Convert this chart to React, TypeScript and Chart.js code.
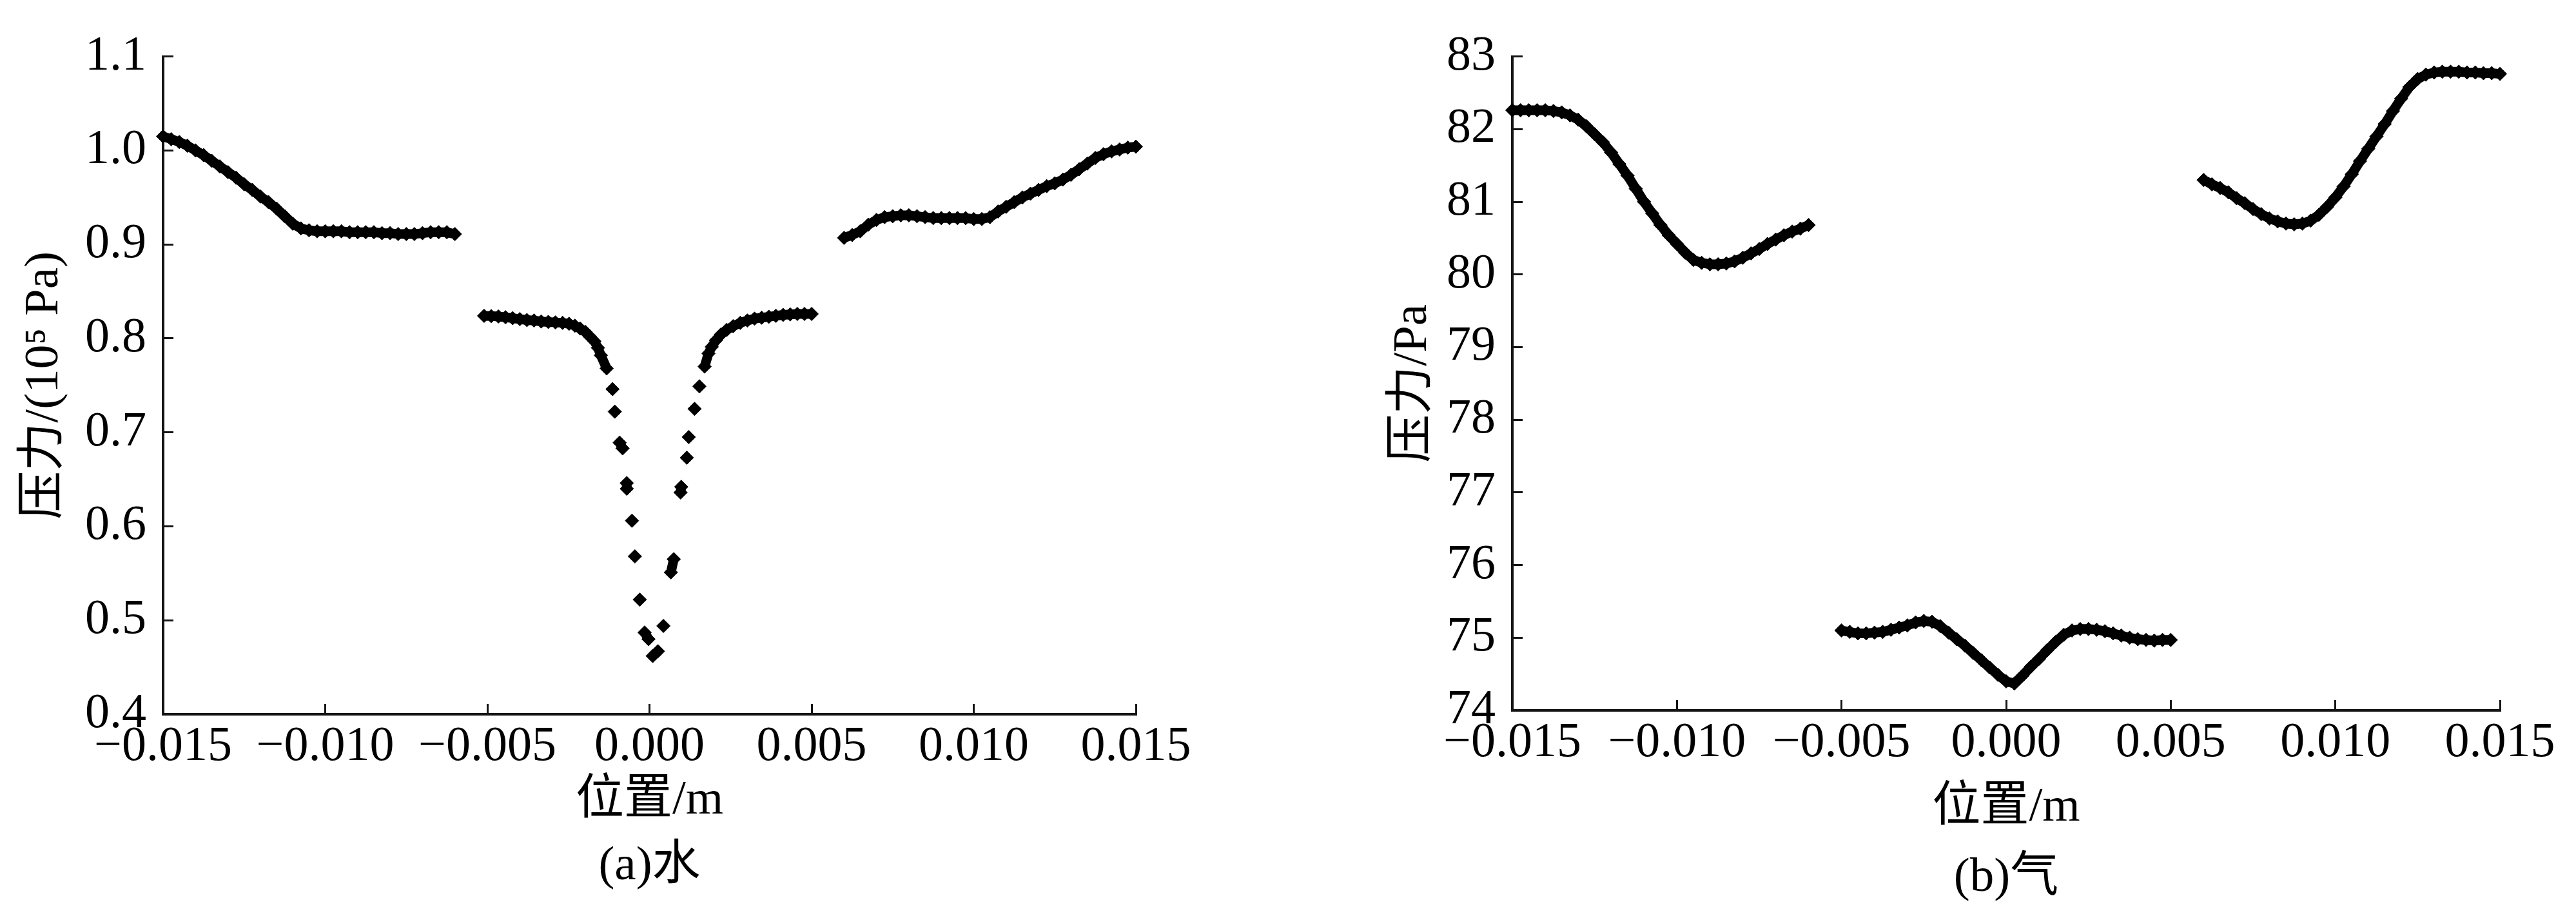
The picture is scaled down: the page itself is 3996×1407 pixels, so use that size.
import React, { useEffect, useRef } from 'react';
import { Chart, registerables } from 'chart.js';

Chart.register(...registerables);

// ---------- tick values ----------
const xTicks = [-0.015, -0.01, -0.005, 0, 0.005, 0.01, 0.015];
const waterYTicks = [0.4, 0.5, 0.6, 0.7, 0.8, 0.9, 1.0, 1.1];
const gasYTicks = [74, 75, 76, 77, 78, 79, 80, 81, 82, 83];

// ---------- positions (m) ----------
const xOuterLeft = [
  -0.015, -0.01475, -0.0145, -0.01425, -0.014, -0.01375, -0.0135, -0.01325, -0.013, -0.01275,
  -0.0125, -0.01225, -0.012, -0.01175, -0.0115, -0.01125, -0.011, -0.01075, -0.0105, -0.01025,
  -0.01, -0.00975, -0.0095, -0.00925, -0.009, -0.00875, -0.0085, -0.00825, -0.008, -0.00775,
  -0.0075, -0.00725, -0.007, -0.00675, -0.0065, -0.00625, -0.006,
];
const xOuterRight = [
  0.006, 0.00625, 0.0065, 0.00675, 0.007, 0.00725, 0.0075, 0.00775, 0.008, 0.00825,
  0.0085, 0.00875, 0.009, 0.00925, 0.0095, 0.00975, 0.01, 0.01025, 0.0105, 0.01075,
  0.011, 0.01125, 0.0115, 0.01175, 0.012, 0.01225, 0.0125, 0.01275, 0.013, 0.01325,
  0.0135, 0.01375, 0.014, 0.01425, 0.0145, 0.01475, 0.015,
];
const xMidWater = [
  -0.0051, -0.00488, -0.00466, -0.00444, -0.00422, -0.004, -0.00378, -0.00356, -0.00334, -0.00312,
  -0.0029, -0.00268, -0.00248, -0.0023, -0.00214, -0.00198, -0.00184, -0.0017, -0.00159, -0.0015,
  -0.00132, -0.00114, -0.00107, -0.00092, -0.00083, -0.0007, -0.0007, -0.00054, -0.00045, -0.0003,
  -0.00015, -0.00003, 0.0001, 0.00026, 0.00043, 0.00066, 0.00075, 0.00096, 0.00098, 0.00115,
  0.00121, 0.00139, 0.00154, 0.0017, 0.00182, 0.00192, 0.00205, 0.0022, 0.00238, 0.00258,
  0.0028, 0.00302, 0.00324, 0.00346, 0.00368, 0.0039, 0.00412, 0.00434, 0.00456, 0.00478,
  0.005,
];
const xMidGas = [
  -0.005, -0.00475, -0.0045, -0.00425, -0.004, -0.00375, -0.0035, -0.00325, -0.003, -0.00275,
  -0.0025, -0.00225, -0.002, -0.00175, -0.0015, -0.00125, -0.001, -0.00075, -0.0005, -0.00025,
  0, 0.00025, 0.0005, 0.00075, 0.001, 0.00125, 0.0015, 0.00175, 0.002, 0.00225,
  0.0025, 0.00275, 0.003, 0.00325, 0.0035, 0.00375, 0.004, 0.00425, 0.0045, 0.00475,
  0.005,
];

// ---------- (a) water pressure, 10^5 Pa ----------
const waterLeft = [
  1.015, 1.012, 1.009, 1.005, 1.0, 0.995, 0.989, 0.983, 0.977, 0.971,
  0.964, 0.958, 0.951, 0.945, 0.938, 0.93, 0.922, 0.917, 0.915, 0.914,
  0.914, 0.914, 0.914, 0.913, 0.913, 0.913, 0.913, 0.912, 0.912, 0.911,
  0.911, 0.911, 0.912, 0.913, 0.913, 0.913, 0.911,
];
const waterMid = [
  0.824, 0.8237, 0.8233, 0.8225, 0.8215, 0.8205, 0.8195, 0.819, 0.818, 0.8175,
  0.817, 0.8165, 0.8155, 0.8135, 0.8105, 0.807, 0.802, 0.797, 0.79, 0.782,
  0.768, 0.746, 0.722, 0.689, 0.683, 0.646, 0.64, 0.606, 0.568, 0.522,
  0.487, 0.48, 0.462, 0.467, 0.494, 0.551, 0.565, 0.636, 0.642, 0.673,
  0.695, 0.725, 0.749, 0.77, 0.784, 0.791, 0.798, 0.804, 0.809, 0.813,
  0.8165, 0.819, 0.821, 0.822, 0.823, 0.824, 0.825, 0.8255, 0.826, 0.826,
  0.826,
];
const waterRight = [
  0.907, 0.91, 0.914, 0.921, 0.926, 0.929, 0.93, 0.931, 0.931, 0.93,
  0.929, 0.928, 0.928, 0.928, 0.928, 0.928, 0.927, 0.927, 0.929, 0.935,
  0.94, 0.945, 0.95, 0.954, 0.958, 0.962, 0.965, 0.969, 0.974, 0.98,
  0.986, 0.992, 0.996, 0.999, 1.001, 1.003, 1.004,
];

// ---------- (b) gas pressure, Pa ----------
const gasLeft = [
  82.26, 82.26, 82.26, 82.26, 82.26, 82.25, 82.23, 82.19, 82.13, 82.04,
  81.93, 81.82, 81.68, 81.52, 81.36, 81.18, 81.0, 80.84, 80.68, 80.54,
  80.42, 80.3, 80.2, 80.16, 80.14, 80.14, 80.15, 80.18, 80.23, 80.29,
  80.35, 80.42, 80.48, 80.54, 80.59, 80.63, 80.68,
];
const gasMid = [
  75.1, 75.08, 75.06, 75.06, 75.07, 75.08, 75.11, 75.14, 75.17, 75.21,
  75.23, 75.22, 75.16, 75.07, 74.98, 74.89, 74.79, 74.69, 74.59, 74.49,
  74.4, 74.37, 74.48, 74.6, 74.71, 74.83, 74.94, 75.04, 75.1, 75.12,
  75.12, 75.11, 75.09, 75.06, 75.03, 75.0, 74.98, 74.97, 74.96, 74.97,
  74.97,
];
const gasRight = [
  81.3, 81.24, 81.19, 81.13, 81.05, 80.98, 80.9, 80.83, 80.77, 80.73,
  80.7, 80.69, 80.7, 80.74, 80.82, 80.93, 81.06, 81.21, 81.38, 81.56,
  81.73, 81.9, 82.07, 82.25, 82.42, 82.58, 82.69, 82.75, 82.78, 82.79,
  82.79, 82.79, 82.78, 82.78, 82.77, 82.77, 82.76,
];

const SERIF = "'Liberation Serif', 'DejaVu Serif', 'Noto Sans CJK SC', serif";
const INK = '#000000';
const AXIS = '#151515';
const BAND_GAP_PX = 26; // neighbouring markers farther apart than this are not joined

function zip(xs: number[], ys: number[]) {
  return xs.map((x, i) => ({ x, y: ys[i] }));
}

function fmtX(v: number) {
  if (Math.abs(v) < 1e-9) return '0.000';
  return (v < 0 ? '\u2212' : '') + Math.abs(v).toFixed(3);
}

type Panel = {
  segments: { x: number[]; y: number[] }[];
  yMin: number;
  yMax: number;
  yTicks: number[];
  yFmt: (v: number) => string;
  yTitle: string;
  caption: string;
  yAxisWidth: number;
  xAxisHeight: number;
  padTop: number;
  padRight: number;
  yTitlePad: number;
  xTitleLine: number;
  xTitlePadBottom: number;
};

function makeConfig(p: Panel): any {
  return {
    type: 'scatter',
    data: {
      datasets: p.segments.map((s) => ({
        data: zip(s.x, s.y),
        pointStyle: 'rectRot',
        pointRadius: 10.5,
        pointHoverRadius: 10.5,
        pointBackgroundColor: INK,
        pointBorderColor: INK,
        pointBorderWidth: 1,
        showLine: true,
        borderColor: INK,
        borderWidth: 15,
        borderCapStyle: 'round',
        borderJoinStyle: 'round',
        tension: 0,
        segment: {
          borderColor: (ctx: any) =>
            Math.hypot(ctx.p1.x - ctx.p0.x, ctx.p1.y - ctx.p0.y) > BAND_GAP_PX ? 'rgba(0,0,0,0)' : INK,
        },
        clip: false,
      })),
    },
    options: {
      responsive: false,
      animation: false,
      devicePixelRatio: 1,
      events: [],
      layout: { padding: { top: p.padTop, right: p.padRight, bottom: 0, left: 0 } },
      plugins: { legend: { display: false }, tooltip: { enabled: false }, title: { display: false } },
      scales: {
        x: {
          type: 'linear',
          min: -0.015,
          max: 0.015,
          afterBuildTicks: (s: any) => {
            s.ticks = xTicks.map((v) => ({ value: v }));
          },
          afterFit: (s: any) => {
            s.height = p.xAxisHeight;
          },
          ticks: {
            autoSkip: false,
            maxRotation: 0,
            minRotation: 0,
            padding: 21,
            color: INK,
            font: { family: SERIF, size: 76 },
            callback: (v: number) => fmtX(v),
          },
          grid: {
            drawOnChartArea: false,
            drawTicks: true,
            tickLength: -16,
            tickWidth: 3,
            tickColor: AXIS,
          },
          border: { display: true, color: AXIS, width: 4 },
          title: {
            display: true,
            text: ['位置/m', p.caption],
            color: INK,
            font: { family: SERIF, size: 75, lineHeight: p.xTitleLine },
            padding: { top: 0, bottom: p.xTitlePadBottom },
          },
        },
        y: {
          type: 'linear',
          min: p.yMin,
          max: p.yMax,
          afterBuildTicks: (s: any) => {
            s.ticks = p.yTicks.map((v) => ({ value: v }));
          },
          afterFit: (s: any) => {
            s.width = p.yAxisWidth;
          },
          ticks: {
            padding: 42,
            color: INK,
            font: { family: SERIF, size: 76 },
            callback: (v: number) => p.yFmt(v),
          },
          grid: {
            drawOnChartArea: false,
            drawTicks: true,
            tickLength: -16,
            tickWidth: 3,
            tickColor: AXIS,
          },
          border: { display: true, color: AXIS, width: 4 },
          title: {
            display: true,
            text: p.yTitle,
            color: INK,
            font: { family: SERIF, size: 75, lineHeight: 1.2 },
            padding: { top: p.yTitlePad, bottom: 0 },
          },
        },
      },
    },
  };
}

const waterPanel: Panel = {
  segments: [
    { x: xOuterLeft, y: waterLeft },
    { x: xMidWater, y: waterMid },
    { x: xOuterRight, y: waterRight },
  ],
  yMin: 0.4,
  yMax: 1.1,
  yTicks: waterYTicks,
  yFmt: (v) => v.toFixed(1),
  yTitle: '压力/(10⁵ Pa)',
  caption: '(a)水',
  yAxisWidth: 253,
  xAxisHeight: 299,
  padTop: 66,
  padRight: 238,
  yTitlePad: 24,
  xTitleLine: 102 / 75,
  xTitlePadBottom: 12,
};

const gasPanel: Panel = {
  segments: [
    { x: xOuterLeft, y: gasLeft },
    { x: xMidGas, y: gasMid },
    { x: xOuterRight, y: gasRight },
  ],
  yMin: 74,
  yMax: 83,
  yTicks: gasYTicks,
  yFmt: (v) => String(Math.round(v)),
  yTitle: '压力/Pa',
  caption: '(b)气',
  yAxisWidth: 346,
  xAxisHeight: 305,
  padTop: 55.5,
  padRight: 118,
  yTitlePad: 147,
  xTitleLine: 109 / 75,
  xTitlePadBottom: -9.5,
};

function PanelChart({ panel, left, width }: { panel: Panel; left: number; width: number }) {
  const ref = useRef<HTMLCanvasElement | null>(null);
  useEffect(() => {
    if (!ref.current) return;
    const chart = new Chart(ref.current, makeConfig(panel));
    return () => chart.destroy();
  }, [panel]);
  return (
    <canvas
      ref={ref}
      width={width}
      height={1407}
      style={{ position: 'absolute', left, top: 0, width, height: 1407, display: 'block' }}
    />
  );
}

export default function App() {
  return (
    <div
      style={{
        position: 'absolute',
        left: 0,
        top: 0,
        width: 3996,
        height: 1407,
        background: '#ffffff',
        overflow: 'hidden',
      }}
    >
      <PanelChart panel={waterPanel} left={0} width={2000} />
      <PanelChart panel={gasPanel} left={2000} width={1996} />
    </div>
  );
}
